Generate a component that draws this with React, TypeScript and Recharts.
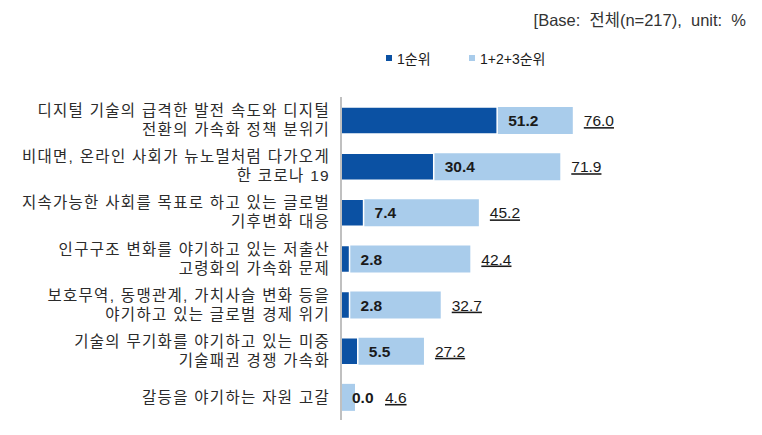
import { BarChart, Bar, XAxis, YAxis, LabelList, Legend } from 'recharts'

const categories = [
  '디지털 기술의 급격한 발전 속도와 디지털\n전환의 가속화 정책 분위기',
  '비대면, 온라인 사회가 뉴노멀처럼 다가오게\n한 코로나 19',
  '지속가능한 사회를 목표로 하고 있는 글로벌\n기후변화 대응',
  '인구구조 변화를 야기하고 있는 저출산\n고령화의 가속화 문제',
  '보호무역, 동맹관계, 가치사슬 변화 등을\n야기하고 있는 글로벌 경제 위기',
  '기술의 무기화를 야기하고 있는 미중\n기술패권 경쟁 가속화',
  '갈등을 야기하는 자원 고갈',
]
const rank1 = [51.2, 30.4, 7.4, 2.8, 2.8, 5.5, 0.0]
const rank123 = [76.0, 71.9, 45.2, 42.4, 32.7, 27.2, 4.6]

const DARK = '#0b51a3'
const LIGHT = '#a9cceb'
const FONT = '"Liberation Sans", Arial, "Noto Sans CJK KR", sans-serif'

const data = categories.map((name, i) => ({ name, first: rank1[i], top3: rank123[i] }))

const CategoryTick = (props: any) => {
  const { x, y, payload } = props
  const lines = String(payload.value).split('\n')
  const lh = 19
  const start = y - ((lines.length - 1) * lh) / 2
  return (
    <text
      x={x - 3}
      y={start}
      textAnchor="end"
      fill="#2b2b2b"
      fontSize={15.5}
      letterSpacing={1.3}
      fontFamily={FONT}
    >
      {lines.map((l, i) => (
        <tspan key={i} x={x - 3} y={start + i * lh} dy="0.36em">
          {l}
        </tspan>
      ))}
    </text>
  )
}

// both value labels are drawn from the 1+2+3 bar so a zero 1순위 still gets its label
const ValueLabels = (props: any) => {
  const { x, y, width, height, value, index } = props
  const first = rank1[index]
  const darkEnd = x + (width * first) / value
  const cy = y + height / 2
  const lx = Math.max(x + width, darkEnd + 11 + 22) + 11
  return (
    <g fontFamily={FONT} fontSize={15.5} fill="#1a1a1a">
      <text x={darkEnd + 11} y={cy} dy="0.36em" fontWeight="bold">
        {first.toFixed(1)}
      </text>
      <text x={lx} y={cy} dy="0.36em" textDecoration="underline">
        {Number(value).toFixed(1)}
      </text>
    </g>
  )
}

const LegendBox = () => (
  <div style={{ display: 'flex', fontFamily: FONT, fontSize: 14, color: '#1a1a1a' }}>
    <div style={{ display: 'flex', alignItems: 'center', width: 83 }}>
      <span style={{ width: 6, height: 6, background: DARK, marginRight: 5 }} />
      1순위
    </div>
    <div style={{ display: 'flex', alignItems: 'center' }}>
      <span style={{ width: 6, height: 6, background: LIGHT, marginRight: 5 }} />
      1+2+3순위
    </div>
  </div>
)

export default function App() {
  return (
    <div style={{ position: 'absolute', left: 0, top: 0, width: 762, height: 435, background: '#fff' }}>
      <div
        style={{
          position: 'absolute',
          right: 16,
          top: 7,
          fontFamily: FONT,
          fontSize: 16.5,
          color: '#333',
          whiteSpace: 'pre',
        }}
      >
        {'[Base:  전체(n=217),  unit:  %'}
      </div>
      <BarChart
        width={762}
        height={435}
        data={data}
        layout="vertical"
        margin={{ top: 77, right: 116, bottom: 15, left: 0 }}
        barSize={27}
        barGap={-27}
      >
        <XAxis type="number" domain={[0, 100]} hide />
        <YAxis
          type="category"
          dataKey="name"
          width={341}
          axisLine={{ stroke: '#c0c0c0', strokeWidth: 2 }}
          tickLine={false}
          tick={<CategoryTick />}
          interval={0}
        />
        <Legend
          verticalAlign="top"
          content={<LegendBox />}
          wrapperStyle={{ position: 'absolute', top: 48, left: 386, width: 'auto' }}
        />
        <Bar dataKey="top3" fill={LIGHT} isAnimationActive={false}>
          <LabelList dataKey="top3" content={<ValueLabels />} />
        </Bar>
        <Bar dataKey="first" fill={DARK} stroke="#fff" strokeWidth={1.5} isAnimationActive={false} />
      </BarChart>
    </div>
  )
}
